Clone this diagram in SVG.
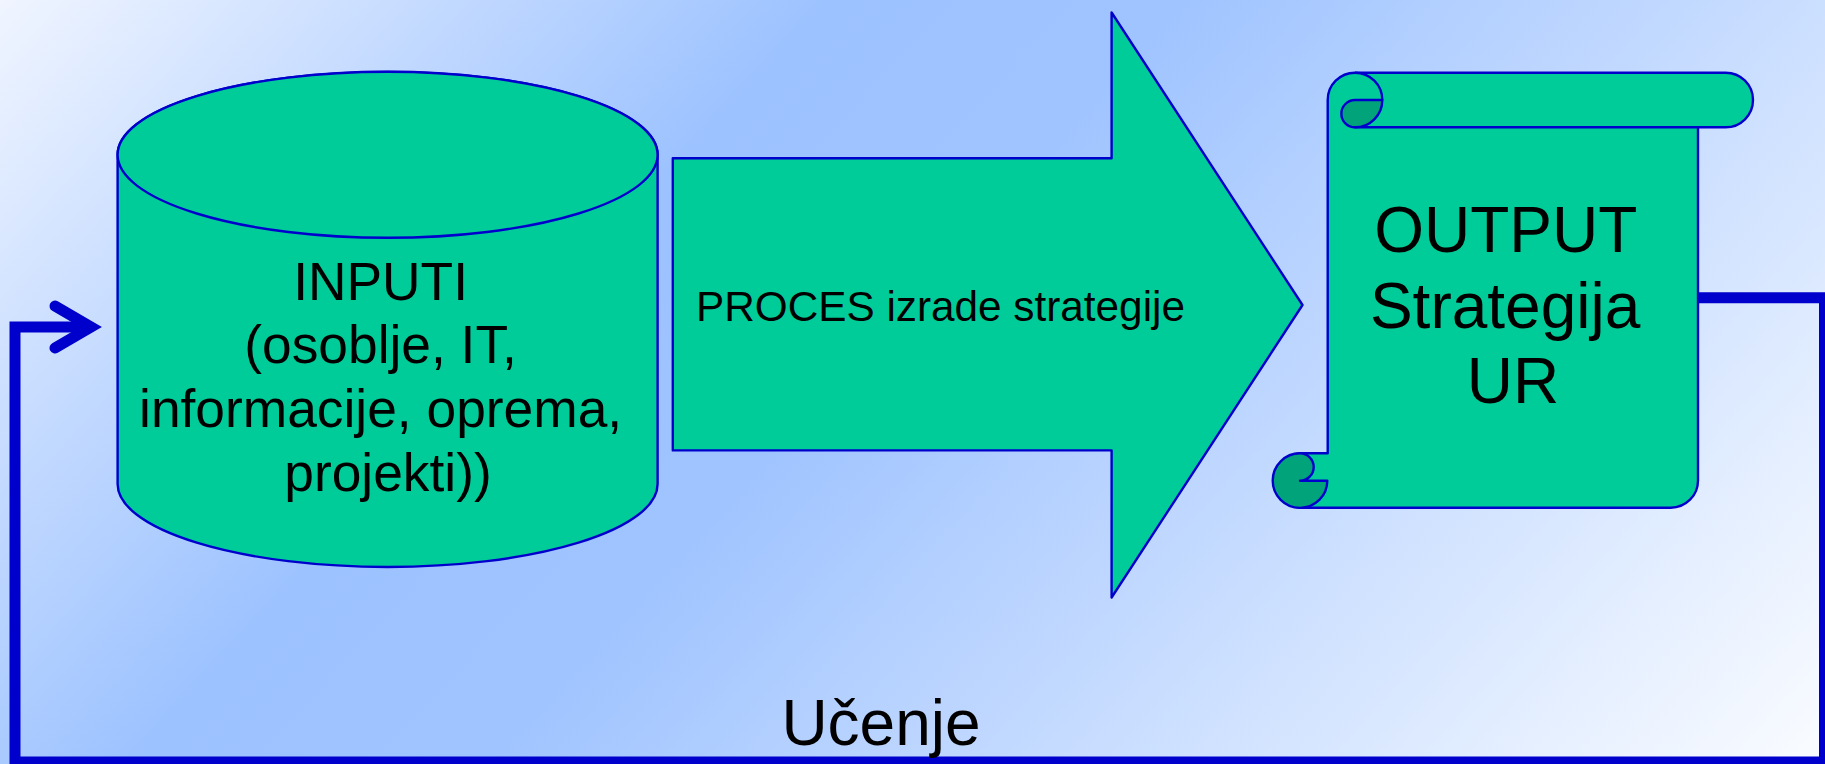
<svg xmlns="http://www.w3.org/2000/svg" width="1825" height="764" viewBox="0 0 1825 764">
<defs>
<linearGradient id="bg" gradientUnits="userSpaceOnUse" x1="0" y1="0" x2="1372" y2="1256">
<stop offset="0" stop-color="#F0F5FF"/>
<stop offset="0.33" stop-color="#9CC2FF"/>
<stop offset="0.47" stop-color="#A0C4FF"/>
<stop offset="1" stop-color="#FAFCFF"/>
</linearGradient>
<style>
.sh{fill:#00CC99;stroke:#0000CC;stroke-width:2.4;stroke-linejoin:round}
.dk{fill:#00A37A;stroke:#0000CC;stroke-width:2.4;stroke-linejoin:round}
.ln{fill:none;stroke:#0000CC;stroke-width:2.4}
.t{font-family:"Liberation Sans",Arial,sans-serif;fill:#000}
.conn{fill:none;stroke:#0000CC;stroke-width:11}
</style>
</defs>
<rect width="1825" height="764" fill="url(#bg)"/>

<g id="inputi">
<path class="sh" d="M117.6,154.8 L117.6,484 A270,83 0 0 0 657.6,484 L657.6,154.8 A270,83 0 0 0 117.6,154.8 Z"/>
<ellipse class="sh" cx="387.6" cy="154.8" rx="270" ry="83"/>
<text class="t" font-size="53.33" text-anchor="middle">
<tspan x="388" y="300">INPUTI</tspan>
<tspan x="388" y="363">(osoblje, IT,</tspan>
<tspan x="388" y="427">informacije, oprema,</tspan>
<tspan x="388" y="491">projekti))</tspan>
</text>
</g>

<g id="proces">
<path class="sh" d="M672.8,158.3 L1111.6,158.3 L1111.6,12.5 L1302.5,305 L1111.6,597.5 L1111.6,450.4 L672.8,450.4 Z"/>
<text class="t" font-size="42.3" x="696" y="321">PROCES izrade strategije</text>
</g>

<g id="output">
<path class="sh" d="M1355,127.3 L1698,127.3 L1698,480.4 A27.3,27.3 0 0 1 1670.7,507.7 L1300,507.7 A27.3,27.3 0 0 1 1300,453.3 L1327.7,453.3 L1327.7,100 A27.3,27.3 0 0 1 1355,72.7 L1725.7,72.7 A27.3,27.3 0 0 1 1725.7,127.3 L1355,127.3 Z"/>
<path class="ln" d="M1355,72.7 A27.3,27.3 0 0 1 1382.3,100"/>
<path class="dk" d="M1355,100 A13.65,13.65 0 0 0 1355,127.3 A27.3,27.3 0 0 0 1382.3,100 Z"/>
<path class="dk" d="M1300,453.3 A27.3,27.3 0 1 0 1327.3,480.7 L1300,480.7 A13.65,13.65 0 0 0 1300,453.3 Z"/>
<text class="t" font-size="64" text-anchor="middle">
<tspan x="1514" y="252">OUTPUT</tspan>
<tspan x="1514" y="328">Strategija</tspan>
<tspan x="1513" y="403">UR</tspan>
</text>
</g>

<g id="connectors">
<polyline class="conn" points="1698,297.7 1824.5,297.7 1824.5,762 15,762 15,327 91,327"/>
<polyline class="conn" points="55,306 91,327 55,348" stroke-linecap="round" stroke-linejoin="miter"/>
<text class="t" font-size="64" text-anchor="middle" x="881" y="745">Učenje</text>
</g>
</svg>
